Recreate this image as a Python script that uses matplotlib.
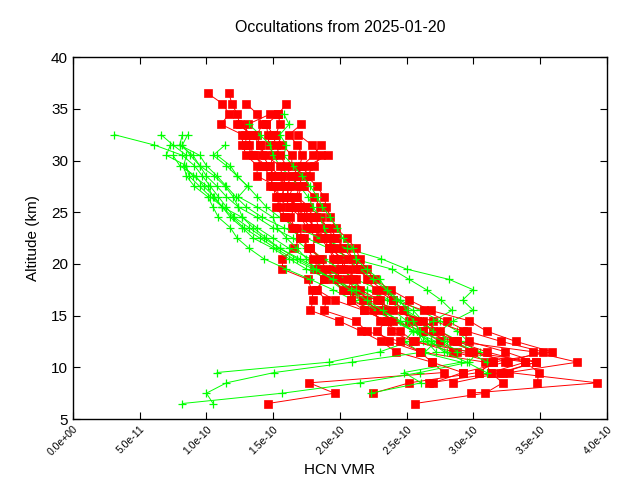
import matplotlib
matplotlib.use("Agg")
import matplotlib.pyplot as plt
from matplotlib.ticker import FormatStrFormatter

plt.rcParams['font.family'] = ['Liberation Sans', 'DejaVu Sans']

# retrieval altitude grid (km), top to bottom
altitudes = [36.5, 35.5, 34.5, 33.5, 32.5, 31.5, 30.5, 29.5, 28.5, 27.5, 26.5,
             25.5, 24.5, 23.5, 22.5, 21.5, 20.5, 19.5, 18.5, 17.5, 16.5, 15.5,
             14.5, 13.5, 12.5, 11.5, 10.5, 9.5, 8.5, 7.5, 6.5]

# HCN VMR in units of 1e-10, each profile listed from its top altitude downwards
red_tops = [36.5, 36.5, 35.5, 35.5, 34.5, 34.5, 33.5, 32.5, 31.5, 30.5, 33.5, 33.5]
red_profiles = [
    [1.01, 1.12, 1.17, 1.11, 1.27, 1.27, 1.30, 1.38, 1.38, 1.53, 1.54, 1.56, 1.59, 1.64, 1.70, 1.66,
     1.57, 1.57, 1.76, 1.79, 1.80, 1.78, 1.99, 2.16, 2.31, 2.42, 2.69, 2.78, 1.77, 1.96, 1.46],
    [1.17, 1.19, 1.23, 1.25, 1.33, 1.32, 1.36, 1.42, 1.48, 1.50, 1.52, 1.62, 1.71, 1.75, 1.83, 1.78,
     1.87, 1.81, 1.88, 1.83, 1.96, 2.18, 2.35, 2.28, 2.37, 2.60, 3.09, 3.13, 3.22, 3.09, 2.56],
    [1.30, 1.38, 1.42, 1.38, 1.40, 1.42, 1.47, 1.55, 1.57, 1.58, 1.63, 1.78, 1.80, 1.85, 1.92, 1.95,
     1.95, 1.99, 2.08, 2.08, 2.25, 2.30, 2.45, 2.56, 2.85, 3.15, 3.04, 2.52, 2.25],
    [1.60, 1.54, 1.45, 1.46, 1.47, 1.50, 1.48, 1.50, 1.48, 1.56, 1.72, 1.75, 1.81, 1.87, 1.93, 2.02,
     2.02, 2.10, 2.05, 2.20, 2.48, 2.52, 2.62, 2.75, 2.88, 3.39, 3.49, 3.48],
    [1.48, 1.31, 1.29, 1.30, 1.35, 1.45, 1.52, 1.62, 1.60, 1.70, 1.80, 1.78, 1.92, 1.95, 2.00, 2.06,
     2.12, 2.15, 2.30, 2.34, 2.70, 2.92, 2.97, 3.24, 3.47, 3.20, 2.67],
    [1.54, 1.55, 1.52, 1.57, 1.64, 1.64, 1.69, 1.72, 1.68, 1.77, 1.86, 1.90, 1.96, 2.05, 2.10, 2.15,
     2.20, 2.27, 2.40, 2.47, 2.58, 2.70, 2.88, 3.45, 3.78, 3.27, 3.93, 2.98],
    [1.71, 1.62, 1.68, 1.72, 1.70, 1.78, 1.73, 1.81, 1.85, 1.82, 1.92, 1.98, 2.02, 2.10, 2.15, 2.22,
     2.32, 2.40, 2.63, 2.80, 2.95, 3.21, 3.52, 3.24, 2.92],
    [1.69, 1.79, 1.86, 1.81, 1.75, 1.83, 1.88, 1.90, 1.93, 1.97, 2.05, 2.12, 2.15, 2.20, 2.26, 2.38,
     2.52, 2.68, 2.97, 3.10, 3.32, 3.59, 3.15, 3.04],
    [1.86, 1.80, 1.72, 1.68, 1.65, 1.62, 1.66, 1.63, 1.66, 1.70, 1.78, 1.85, 1.90, 1.88, 1.82, 1.90,
     1.88, 2.12, 2.20, 2.45, 2.60, 2.69, 2.92, 2.70],
    [1.91, 1.76, 1.65, 1.59, 1.56, 1.52, 1.58, 1.68, 1.73, 1.76, 1.80, 1.84, 1.95, 2.02, 2.17, 2.30,
     2.40, 2.62, 2.85, 3.00, 3.26],
    [1.23, 1.35, 1.40, 1.44, 1.55, 1.57, 1.60, 1.62, 1.66, 1.72, 1.78, 1.88, 1.98, 2.06, 2.12, 2.05,
     2.12, 2.08, 2.18, 2.35, 2.38, 2.55, 2.97, 3.47, 3.22, 2.85],
    [1.45, 1.50, 1.52, 1.55, 1.60, 1.63, 1.70, 1.67, 1.74, 1.82, 1.84, 1.93, 1.92, 1.97, 2.00, 1.98,
     2.05, 2.28, 2.40, 2.62, 2.75, 2.88, 3.10, 3.39, 3.13],
]

green_tops = [32.5, 32.5, 32.5, 32.5, 31.5, 31.5, 30.5, 31.5, 34.5, 33.5, 30.5, 29.5]
green_profiles = [
    [0.31, 0.61, 0.82, 0.91, 0.97, 1.03, 1.09, 1.15, 1.21, 1.32, 1.43, 1.55, 1.70, 1.85, 2.00, 2.20,
     2.35, 2.48, 2.60, 2.70, 2.52, 2.30, 1.92, 1.08],
    [0.66, 0.75, 0.85, 0.83, 0.85, 0.91, 1.01, 1.05, 1.09, 1.18, 1.23, 1.32, 1.43, 1.60, 1.78, 1.95,
     2.10, 2.25, 2.42, 2.55, 2.72, 2.64, 2.09, 1.51, 1.15, 1.00, 1.05],
    [0.82, 0.80, 0.90, 0.95, 1.00, 1.08, 1.15, 1.24, 1.27, 1.38, 1.50, 1.62, 1.78, 1.90, 2.05, 2.20,
     2.38, 2.50, 2.62, 2.75, 2.80, 3.03, 2.97, 2.60, 2.15, 1.57, 0.82],
    [0.86, 0.82, 0.88, 0.95, 1.06, 1.14, 1.20, 1.24, 1.38, 1.50, 1.65, 1.75, 1.88, 2.00, 2.12, 2.30,
     2.45, 2.60, 2.75, 2.88, 2.96],
    [0.73, 0.70, 0.85, 0.87, 0.95, 1.03, 1.12, 1.18, 1.27, 1.35, 1.50, 1.62, 1.75, 1.92, 2.05, 2.18,
     2.30, 2.45, 2.55, 2.48, 2.60, 2.91, 2.48, 2.61, 2.23],
    [0.80, 0.95, 1.00, 1.08, 1.15, 1.22, 1.30, 1.42, 1.58, 1.75, 1.92, 2.10, 2.39, 2.52, 2.65, 2.76,
     2.84, 2.70, 2.58, 2.62, 2.97, 3.10],
    [1.08, 1.18, 1.23, 1.31, 1.38, 1.45, 1.55, 1.68, 1.85, 2.05, 2.31, 2.50, 2.82, 3.00, 2.92, 3.00,
     2.85, 2.75, 2.90, 3.05],
    [1.14, 1.05, 1.15, 1.23, 1.31, 1.24, 1.38, 1.50, 1.53, 1.60, 1.68, 1.75, 1.82, 1.92, 2.02, 2.15,
     2.28, 2.40, 2.55, 2.68, 2.80],
    [1.58, 1.62, 1.55, 1.60, 1.58, 1.65, 1.72, 1.78, 1.83, 1.87, 1.93, 1.98, 2.02, 2.10, 2.12, 2.20,
     2.30, 2.35, 2.42, 2.55, 2.62, 2.70, 2.85, 3.03],
    [1.32, 1.40, 1.48, 1.50, 1.55, 1.62, 1.70, 1.76, 1.80, 1.85, 1.88, 1.92, 1.98, 2.05, 2.15, 2.25,
     2.35, 2.45, 2.50, 2.55, 2.60, 2.78, 2.88],
    [0.75, 0.80, 0.92, 0.98, 1.06, 1.12, 1.20, 1.28, 1.40, 1.52, 1.65, 1.80, 1.95, 2.12, 2.28, 2.40,
     2.50, 2.58, 2.65, 2.72],
    [0.83, 0.90, 1.01, 1.05, 1.12, 1.27, 1.35, 1.45, 1.55, 1.68, 1.82, 1.95, 2.08, 2.20, 2.32, 2.45,
     2.55, 2.68, 2.78, 2.95, 3.10],
]


def profile_alts(top, values):
    i = altitudes.index(top)
    return altitudes[i:i + len(values)]


fig = plt.figure(figsize=(6.4, 4.8), dpi=100)
ax = fig.add_axes([0.114, 0.127, 0.834, 0.754])

n = max(len(red_profiles), len(green_profiles))
for k in range(n):
    if k < len(red_profiles):
        v = red_profiles[k]
        ax.plot([x * 1e-10 for x in v], profile_alts(red_tops[k], v), color='#ff0000',
                lw=0.7, marker='s', ms=5.3, mec='#ff0000', mfc='#ff0000', mew=0.5)
    if k < len(green_profiles):
        v = green_profiles[k]
        ax.plot([x * 1e-10 for x in v], profile_alts(green_tops[k], v), color='#00ff00',
                lw=0.7, marker='+', ms=6, mew=0.9)

ax.set_xlim(0, 4e-10)
ax.set_ylim(5, 40)
ax.set_xticks([i * 0.5e-10 for i in range(9)])
ax.set_yticks(range(5, 41, 5))
ax.xaxis.set_major_formatter(FormatStrFormatter('%.1e'))
ax.tick_params(direction='in', top=True, right=True, length=5, width=0.8)
ax.tick_params(axis='y', labelsize=11)
for lab in ax.get_xticklabels():
    lab.set_rotation(45)
    lab.set_ha('right')
    lab.set_va('top')
    lab.set_rotation_mode('anchor')
    lab.set_fontsize(7.5)
for s in ax.spines.values():
    s.set_linewidth(1)

ax.set_xlabel('HCN VMR', fontsize=11, labelpad=4)
ax.set_ylabel('Altitude (km)', fontsize=11, labelpad=8)
ax.set_title('Occultations from 2025-01-20', fontsize=11.5, pad=18)

fig.savefig('out.png', dpi=100)
